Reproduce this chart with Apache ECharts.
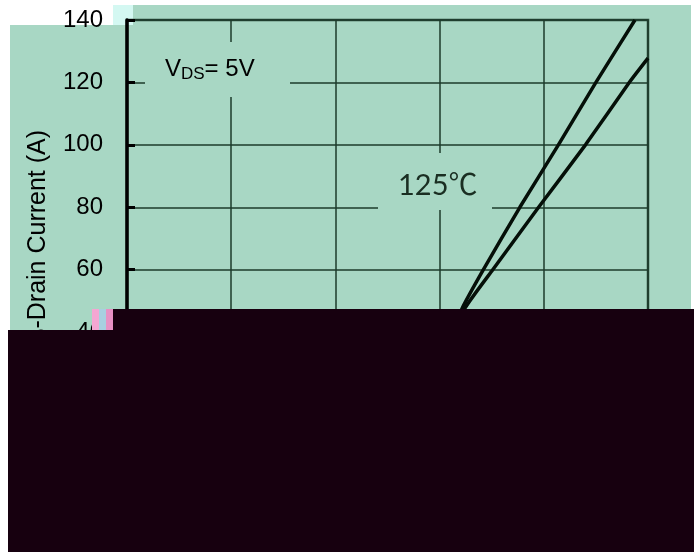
<!DOCTYPE html>
<html>
<head>
<meta charset="utf-8">
<script src="https://cdn.jsdelivr.net/npm/echarts@6/dist/echarts.min.js"></script>
<style>
  html, body { margin: 0; padding: 0; background: #ffffff; }
  #chart { width: 694px; height: 552px; }
</style>
</head>
<body>
<div id="chart"></div>
<script>
// gate voltage (V) vs drain current (A), two temperatures
const vgs25 = [2.4, 2.7, 2.95, 3.215, 3.42, 3.77, 4.14, 4.5, 4.875];
const id25 = [0, 10, 25, 47.5, 60, 80, 100, 120, 140];
const vgs125 = [2.3, 2.65, 2.95, 3.24, 3.51, 3.95, 4.4, 4.82, 5];
const id125 = [0, 10, 25, 47.5, 60, 80, 100, 120, 127.8];
const yTicks = [0, 20, 40, 60, 80, 100, 120, 140];

const teal = "#a8d7c4";
const dark = "#17000f";
const gridCol = "#1d3b2b";

function pairs(xs, ys) {
  return xs.map((x, i) => [x, ys[i]]);
}

const myChart = echarts.init(document.getElementById("chart"));

const option = {
  backgroundColor: "#ffffff",
  animation: false,
  grid: {
    left: 127,
    top: 20,
    right: 46,
    bottom: 95,
    show: true,
    borderColor: "#2b4a3a",
    borderWidth: 2.5,
    backgroundColor: "transparent",
  },
  xAxis: {
    type: "value",
    min: 0,
    max: 5,
    interval: 1,
    axisLine: { show: true, lineStyle: { color: "#000", width: 3 } },
    axisTick: { show: false },
    axisLabel: { color: "#000", fontSize: 24, fontFamily: "Arial, Liberation Sans" },
    splitLine: { show: true, lineStyle: { color: gridCol, width: 1.5 } },
  },
  yAxis: {
    type: "value",
    min: 0,
    max: 140,
    interval: 20,
    axisLine: { show: true, lineStyle: { color: "#000", width: 3.5 } },
    axisTick: { show: true, inside: true, length: 8, lineStyle: { color: "#000", width: 3 } },
    axisLabel: {
      color: "#000",
      fontSize: 24,
      margin: 24,
      fontFamily: "Arial, Liberation Sans",
      formatter: (v) => (yTicks.includes(v) ? String(v) : ""),
    },
    splitLine: { show: true, lineStyle: { color: gridCol, width: 1.5 } },
    name: "{i|I}{s|D}{n|-Drain Current (A)}",
    nameLocation: "middle",
    nameGap: 76,
    nameTextStyle: {
      rich: {
        i: { fontSize: 25, color: "#000", fontFamily: "Arial, Liberation Sans" },
        s: { fontSize: 16, color: "#000", fontFamily: "Arial, Liberation Sans", padding: [8, 0, 0, 0] },
        n: { fontSize: 25, color: "#000", fontFamily: "Arial, Liberation Sans" },
      },
    },
  },
  series: [
    {
      name: "25℃",
      type: "line",
      data: pairs(vgs25, id25),
      showSymbol: false,
      smooth: 0.15,
      lineStyle: { color: "#050f08", width: 3.5 },
      z: 5,
    },
    {
      name: "125℃",
      type: "line",
      data: pairs(vgs125, id125),
      showSymbol: false,
      smooth: 0.15,
      lineStyle: { color: "#050f08", width: 3.5 },
      z: 5,
    },
  ],
  graphic: [
    // page background
    { type: "rect", z: -10, silent: true, shape: { x: 10, y: 5, width: 681, height: 547 }, style: { fill: teal } },
    { type: "rect", z: -9, silent: true, shape: { x: 10, y: 5, width: 103, height: 20 }, style: { fill: "#ffffff" } },
    { type: "rect", z: -9, silent: true, shape: { x: 113, y: 5, width: 20, height: 20 }, style: { fill: "#d4f8f2" } },
    // label boxes hiding the grid
    { type: "rect", z: 3, silent: true, shape: { x: 145, y: 42, width: 145, height: 55 }, style: { fill: teal } },
    { type: "rect", z: 3, silent: true, shape: { x: 378, y: 153, width: 114, height: 57 }, style: { fill: teal } },
    {
      type: "text",
      z: 4,
      left: 165,
      top: 57,
      style: {
        text: "{a|V}{b|DS}{a|= 5V}",
        rich: {
          a: { fontSize: 24, fill: "#000", fontFamily: "Arial, Liberation Sans" },
          b: { fontSize: 17, fill: "#000", fontFamily: "Arial, Liberation Sans", padding: [10, 0, 0, 0] },
        },
      },
    },
    {
      type: "text",
      z: 4,
      left: 398,
      top: 171,
      style: {
        text: "125℃",
        fontSize: 29,
        fill: "#1a2e22",
        fontFamily: "Lato, Noto Sans CJK SC",
      },
    },
    // dark cover over lower part
    { type: "rect", z: 100, silent: true, shape: { x: 8, y: 330, width: 686, height: 222 }, style: { fill: dark } },
    { type: "rect", z: 100, silent: true, shape: { x: 113, y: 309, width: 581, height: 22 }, style: { fill: dark } },
    { type: "rect", z: 100, silent: true, shape: { x: 92, y: 309, width: 7, height: 21 }, style: { fill: "#f4a6d2" } },
    { type: "rect", z: 100, silent: true, shape: { x: 99, y: 309, width: 7, height: 21 }, style: { fill: "#a8cfe0" } },
    { type: "rect", z: 100, silent: true, shape: { x: 106, y: 309, width: 7, height: 21 }, style: { fill: "#e890c4" } },
  ],
};

myChart.setOption(option);

window.addEventListener("resize", () => {
  myChart.resize();
});
</script>
</body>
</html>
